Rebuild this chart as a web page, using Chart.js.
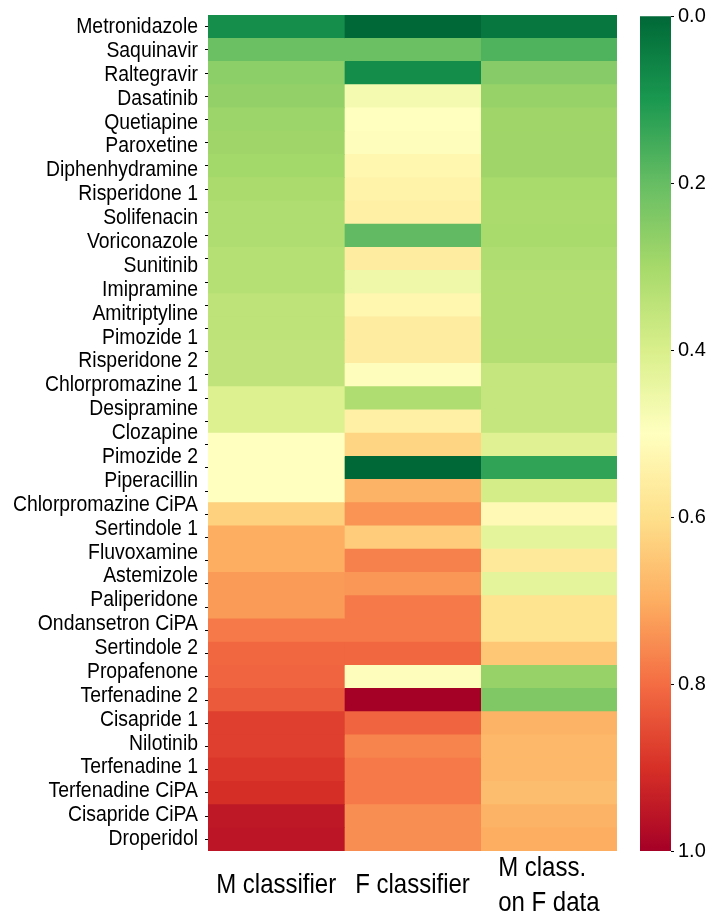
<!DOCTYPE html>
<html>
<head>
<meta charset="utf-8">
<script src="https://cdn.jsdelivr.net/npm/chart.js@4.4.1/dist/chart.umd.min.js"></script>
<style>
  html, body { margin: 0; padding: 0; background: #fff; }
  #wrap { position: relative; width: 712px; height: 916px; }
  #heat { position: absolute; left: 0; top: 0; }
  #cbar { position: absolute; left: 630px; top: 0; }
</style>
</head>
<body>
<div id="wrap">
  <canvas id="heat" width="630" height="916"></canvas>
  <canvas id="cbar" width="82" height="916"></canvas>
</div>
<script>
const FONT = '"Liberation Sans", Arial, sans-serif';

// drug names as printed on the left (35 names over 36 heatmap rows)
const drugs = [
  "Metronidazole", "Saquinavir", "Raltegravir", "Dasatinib", "Quetiapine",
  "Paroxetine", "Diphenhydramine", "Risperidone 1", "Solifenacin", "Voriconazole",
  "Sunitinib", "Imipramine", "Amitriptyline", "Pimozide 1", "Risperidone 2",
  "Chlorpromazine 1", "Desipramine", "Clozapine", "Pimozide 2", "Piperacillin",
  "Chlorpromazine CiPA", "Sertindole 1", "Fluvoxamine", "Astemizole", "Paliperidone",
  "Ondansetron CiPA", "Sertindole 2", "Propafenone", "Terfenadine 2", "Cisapride 1",
  "Nilotinib", "Terfenadine 1", "Terfenadine CiPA", "Cisapride CiPA", "Droperidol"
];
const columns = ["M classifier", "F classifier", ["M class.", "on F data"]];

// cell values, top row first
const mClassifier = [0.08, 0.21, 0.26, 0.27, 0.285, 0.29, 0.295, 0.31, 0.32, 0.32,
  0.33, 0.33, 0.345, 0.345, 0.35, 0.35, 0.41, 0.41, 0.50, 0.50,
  0.50, 0.63, 0.70, 0.70, 0.73, 0.73, 0.78, 0.81, 0.815, 0.83,
  0.875, 0.875, 0.89, 0.905, 0.95, 0.955];
const fClassifier = [0.0, 0.21, 0.075, 0.47, 0.50, 0.505, 0.53, 0.54, 0.55, 0.195,
  0.56, 0.455, 0.53, 0.56, 0.56, 0.505, 0.32, 0.55, 0.62, 0.0,
  0.69, 0.74, 0.64, 0.77, 0.735, 0.78, 0.78, 0.81, 0.505, 1.0,
  0.815, 0.765, 0.78, 0.78, 0.75, 0.75];
const mOnFData = [0.03, 0.17, 0.25, 0.275, 0.29, 0.29, 0.29, 0.305, 0.31, 0.305,
  0.32, 0.325, 0.325, 0.325, 0.325, 0.36, 0.36, 0.36, 0.415, 0.13,
  0.39, 0.52, 0.43, 0.57, 0.43, 0.59, 0.59, 0.65, 0.275, 0.24,
  0.69, 0.68, 0.68, 0.67, 0.69, 0.70];

const colorbarRange = [0, 1];
const colorbarTicks = [0.0, 0.2, 0.4, 0.6, 0.8, 1.0];

// RdYlGn reversed: 0 -> dark green, 1 -> dark red
const cmapStops = ["#006837", "#1a9850", "#66bd63", "#a6d96a", "#d9ef8b", "#ffffbf",
  "#fee08b", "#fdae61", "#f46d43", "#d73027", "#a50026"];

Chart.defaults.font.family = FONT;

//--------------------------------------
function hexToRgb(h) {
  const n = parseInt(h.slice(1), 16);
  return [(n >> 16) & 255, (n >> 8) & 255, n & 255];
}
const cmapRgb = cmapStops.map(hexToRgb);

function toColor(v) {
  const t = Math.min(Math.max(v, 0), 1) * (cmapRgb.length - 1);
  const i = Math.min(Math.floor(t), cmapRgb.length - 2);
  const f = t - i;
  const a = cmapRgb[i], b = cmapRgb[i + 1];
  const c = a.map((x, k) => Math.round(x + (b[k] - x) * f));
  return "rgb(" + c.join(",") + ")";
}

// the source figure's labels are a bit taller than wide, so stretch them
function tallText(ctx, text, x, y, sy) {
  ctx.save();
  ctx.translate(x, y);
  ctx.scale(1, sy);
  ctx.fillText(text, 0, 0);
  ctx.restore();
}

//--------------------------------------
// drug names on the left and column titles under the heatmap
const textLabels = {
  id: "textLabels",
  afterDraw(chart) {
    const { ctx, chartArea, scales } = chart;
    ctx.save();
    ctx.fillStyle = "#000";

    ctx.font = "19.4px " + FONT;
    ctx.textAlign = "right";
    ctx.textBaseline = "middle";
    drugs.forEach((name, k) => {
      tallText(ctx, name, scales.names.right - 2, scales.names.getPixelForValue(k), 1.14);
    });

    ctx.font = "24px " + FONT;
    ctx.textAlign = "left";
    ctx.textBaseline = "alphabetic";
    columns.forEach((lab, i) => {
      const cx = scales.x.getPixelForValue(i + 0.5);
      const lines = Array.isArray(lab) ? lab : [lab];
      const w = Math.max(...lines.map((l) => ctx.measureText(l).width));
      const y0 = chartArea.bottom + (lines.length > 1 ? 25 : 42);
      lines.forEach((l, j) => tallText(ctx, l, cx - w / 2, y0 + j * 35, 1.16));
    });
    ctx.restore();
  },
};

const series = [mClassifier, fClassifier, mOnFData];
const rows = mClassifier.map((_, i) => i + 1);

const heatChart = new Chart(document.getElementById("heat"), {
  type: "bar",
  data: {
    labels: rows,
    datasets: series.map((vals) => ({
      data: vals.map(() => 1),
      backgroundColor: vals.map(toColor),
      borderWidth: 0,
      barPercentage: 1,
      categoryPercentage: 1,
    })),
  },
  options: {
    indexAxis: "y",
    responsive: false,
    animation: false,
    layout: { padding: { top: 15, right: 13, bottom: 65, left: 0 } },
    plugins: { legend: { display: false }, tooltip: { enabled: false } },
    scales: {
      x: { type: "linear", min: 0, max: 3, stacked: true, display: false },
      y: {
        stacked: true,
        weight: 0,
        afterFit: (s) => { s.width = 8; },
        border: { display: false },
        grid: { drawOnChartArea: false, offset: false, tickLength: 3, color: "#000" },
        ticks: { display: false, autoSkip: false },
      },
      names: {
        type: "category",
        position: "left",
        labels: drugs,
        offset: true,
        weight: 1,
        afterFit: (s) => { s.width = 200; },
        border: { display: false },
        grid: { display: false, drawTicks: false },
        ticks: { display: false, autoSkip: false },
      },
    },
  },
  plugins: [textLabels],
});

//--------------------------------------
const cbarChart = new Chart(document.getElementById("cbar"), {
  type: "bar",
  data: {
    labels: [""],
    datasets: [{
      data: [colorbarRange],
      borderWidth: 0,
      barPercentage: 1,
      categoryPercentage: 1,
      backgroundColor: (c) => {
        const { chart } = c;
        if (!chart.chartArea) return cmapStops[0];
        const y = chart.scales.y;
        const g = chart.ctx.createLinearGradient(0, y.getPixelForValue(colorbarRange[0]), 0, y.getPixelForValue(colorbarRange[1]));
        cmapStops.forEach((col, i) => g.addColorStop(i / (cmapStops.length - 1), col));
        return g;
      },
    }],
  },
  options: {
    responsive: false,
    animation: false,
    layout: { padding: { top: 15, right: 0, bottom: 65, left: 10 } },
    plugins: { legend: { display: false }, tooltip: { enabled: false } },
    scales: {
      x: { display: false },
      y: {
        position: "right",
        reverse: true,
        min: colorbarRange[0],
        max: colorbarRange[1],
        afterFit: (s) => { s.width = 41; },
        afterBuildTicks: (s) => { s.ticks = colorbarTicks.map((v) => ({ value: v })); },
        border: { display: false },
        grid: { drawOnChartArea: false, tickLength: 3, color: "#000" },
        ticks: { color: "#000", padding: 4, font: { size: 20 }, callback: (v) => Number(v).toFixed(1) },
      },
    },
  },
});
</script>
</body>
</html>
